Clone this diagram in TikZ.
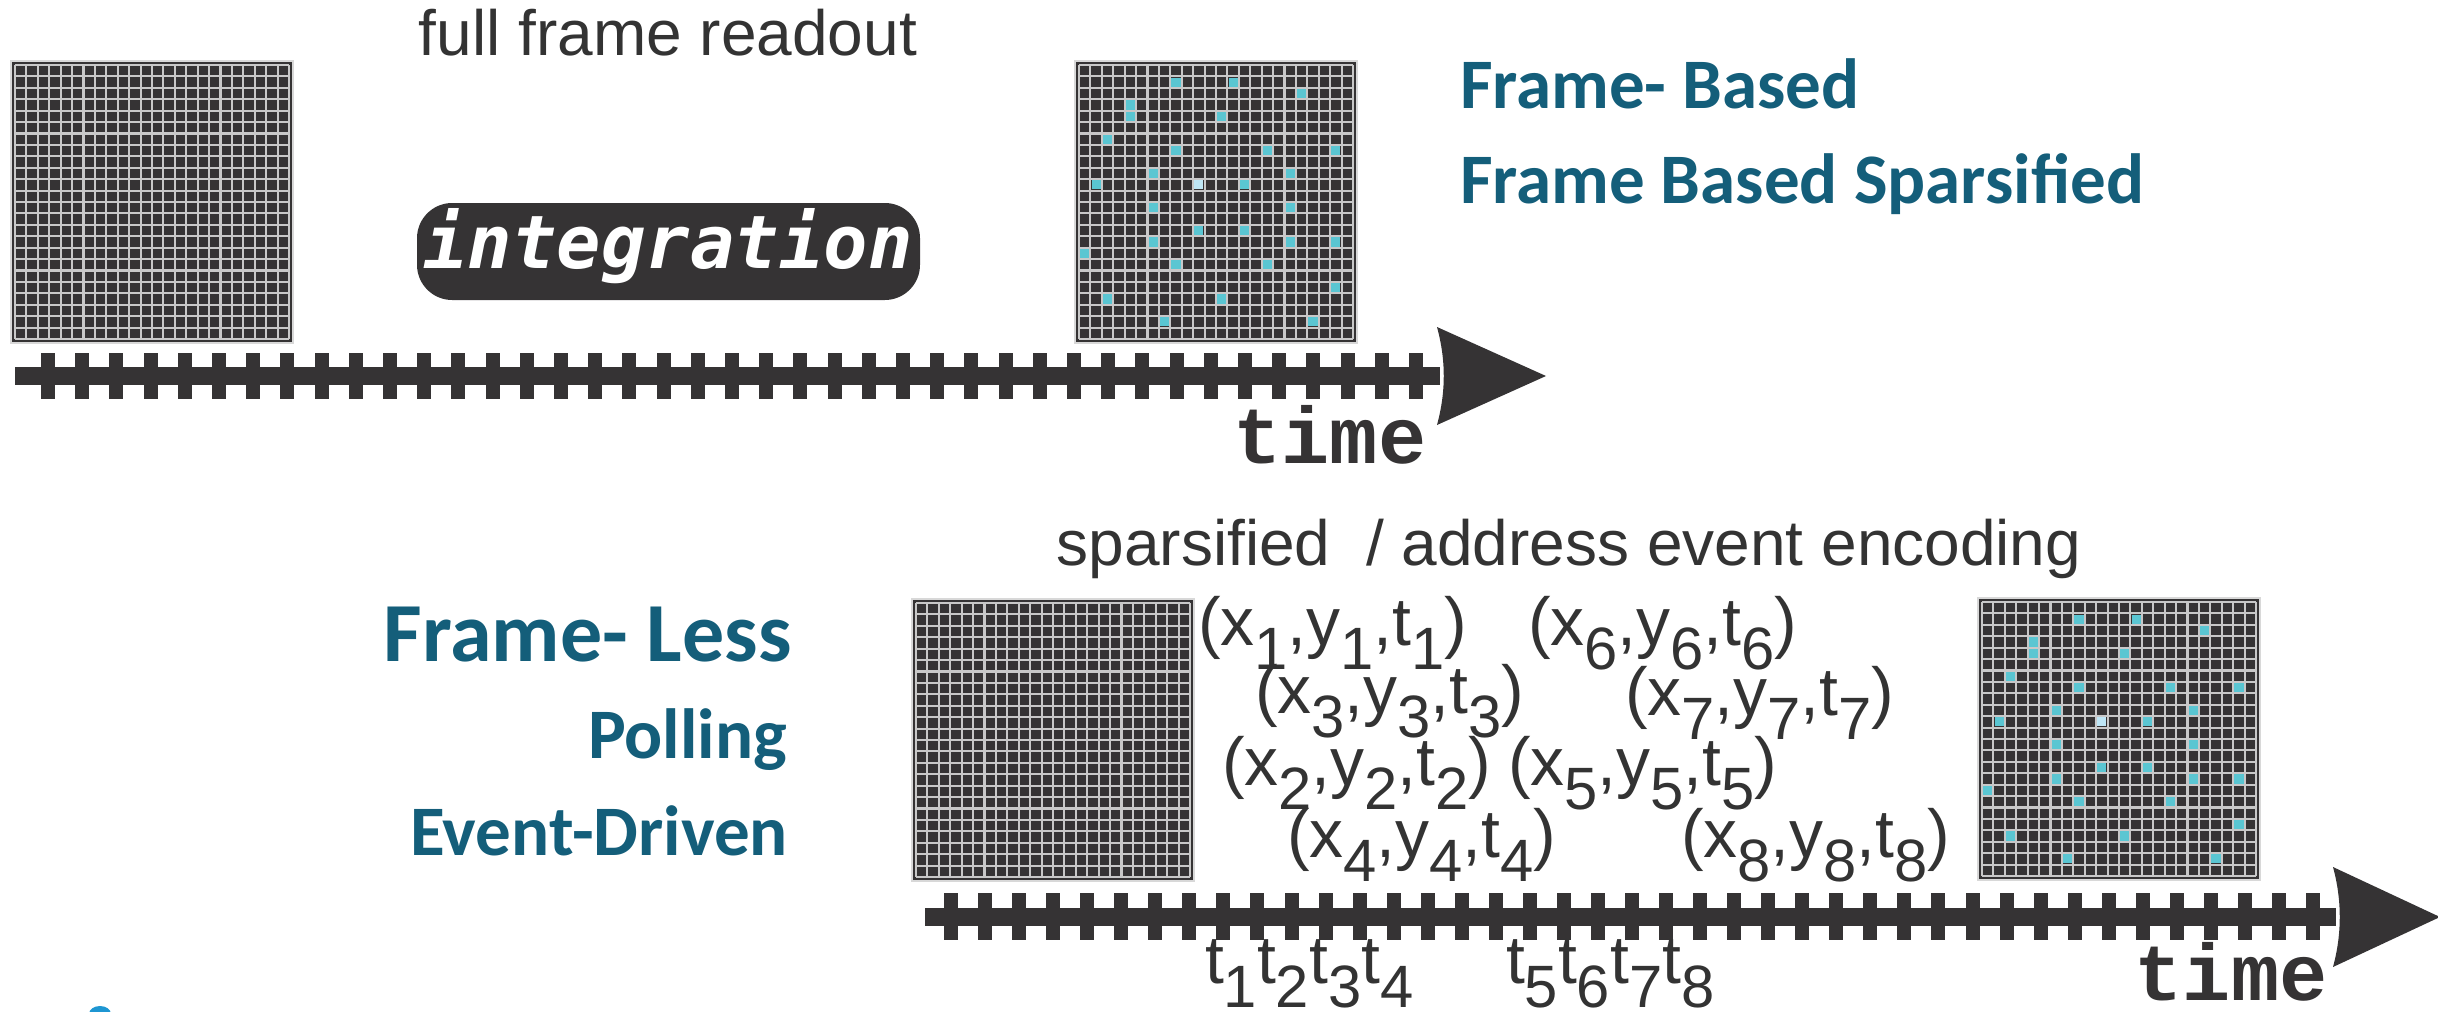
\documentclass[tikz,border=0pt]{standalone}
\usepackage{fontspec}
\setmainfont{Liberation Sans}
\newfontfamily\tealfont{Carlito}
\newfontfamily\courfont{Liberation Mono}
\newfontfamily\intfont{DejaVu Sans Mono}
\definecolor{dark}{RGB}{53,51,52}
\definecolor{gridln}{RGB}{200,200,200}
\definecolor{cyancell}{RGB}{90,198,210}
\definecolor{lightcell}{RGB}{190,230,245}
\definecolor{tealtxt}{RGB}{20,94,122}
\definecolor{txtgray}{RGB}{51,51,51}
\definecolor{blobblue}{RGB}{30,150,210}
\newcommand\subx[1]{\raisebox{-7pt}{\fontsize{17pt}{18pt}\selectfont #1}}
\newcommand\evt[1]{(x\subx{#1},y\subx{#1},t\subx{#1})}
\tikzset{
  gridbase/.pic={
    \fill[dark] (0,0) rectangle (282,282);
    \draw[gridln!70!white, line width=0.3pt] (0,0) rectangle (282,282);
    \foreach \i in {0,...,24}{
      \draw[gridln, line width=0.6pt] ({4+\i*11.4167},4) -- ({4+\i*11.4167},278);
      \draw[gridln, line width=0.6pt] (4,{4+\i*11.4167}) -- (278,{4+\i*11.4167});
    }
  },
  pixgrid/.pic={ \pic {gridbase}; },
  cyangrid/.pic={
    \pic {gridbase};
    \foreach \c/\r in {8/1,13/1,19/2,4/3,4/4,12/4,2/6,8/7,16/7,22/7,6/9,18/9,1/10,14/10,6/12,18/12,10/14,14/14,6/15,18/15,22/15,0/16,8/17,16/17,22/19,2/20,12/20,7/22,20/22}{
      \fill[cyancell] ({4+\c*11.4167+1.1},{4+\r*11.4167+1.1}) rectangle ({4+(\c+1)*11.4167-1.1},{4+(\r+1)*11.4167-1.1});
    }
    \fill[lightcell] ({4+10*11.4167+1.1},{4+10*11.4167+1.1}) rectangle ({4+11*11.4167-1.1},{4+11*11.4167-1.1});
  },
  plain/.style={inner sep=0pt, outer sep=0pt, text=txtgray, font=\fontsize{18.2pt}{20pt}\selectfont},
  tuple/.style={inner sep=0pt, outer sep=0pt, text=txtgray, anchor=base west, font=\fontsize{19.3pt}{21pt}\selectfont},
  teallbl/.style={inner sep=0pt, outer sep=0pt, text=tealtxt, font=\tealfont\bfseries\fontsize{20.2pt}{22pt}\selectfont},
  timelbl/.style={inner sep=0pt, outer sep=0pt, text=dark, anchor=base, font=\courfont\bfseries\fontsize{22.8pt}{24pt}\selectfont},
}
\begin{document}
\begin{tikzpicture}[x=0.01cm, y=-0.01cm]
\useasboundingbox (0,0) rectangle (2438,1012);
% grids
\pic at (11,61) {pixgrid};
\pic at (1075,61) {cyangrid};
\pic at (912,599) {pixgrid};
\pic at (1978,598) {cyangrid};
% top time axis
\fill[dark] (15,367) rectangle (1440,385);
\foreach \k in {0,...,40}{
  \fill[dark] ({48+\k*34.2-7},353) rectangle ({48+\k*34.2+7},399);
}
\fill[dark] (1437,327) .. controls (1446,360) and (1446,392) .. (1437,425) -- (1546,376) -- cycle;
% bottom time axis
\fill[dark] (925,908) rectangle (2336,926);
\foreach \k in {0,...,40}{
  \fill[dark] ({951+\k*34.05-7},893) rectangle ({951+\k*34.05+7},940);
}
\fill[dark] (2333,867) .. controls (2342,900) and (2342,934) .. (2333,967) -- (2440,917) -- cycle;
% texts top
\node[plain, anchor=base] (ffr) at (668,55) {full frame readout};
\fill[dark, rounded corners=10] (417,203) rectangle (920,300);
\node[inner sep=0pt, anchor=base, text=white, font=\intfont\bfseries\itshape\fontsize{21pt}{22pt}\selectfont] (integ) at (668,268) {integration};
\node[timelbl] (time1) at (1330,463) {time};
\node[teallbl, anchor=base west] (fb) at (1460,108) {Frame- Based};
\node[teallbl, anchor=base west] (fbs) at (1460,203) {Frame Based Sparsified};
% texts bottom
\node[plain, anchor=base] (saee) at (1569,565) {sparsified~ / address event encoding};
\node[teallbl, anchor=base east, font=\tealfont\bfseries\fontsize{23.9pt}{25pt}\selectfont] (fl) at (792,661) {Frame- Less};
\node[teallbl, anchor=base east] (poll) at (787,758) {Polling};
\node[teallbl, anchor=base east] (evd) at (788,855) {Event-Driven};
\node[tuple] (e1) at (1198,645) {\evt{1}};
\node[tuple] (e6) at (1528,645) {\evt{6}};
\node[tuple] (e3) at (1255,713) {\evt{3}};
\node[tuple] (e7) at (1625,715) {\evt{7}};
\node[tuple] (e2) at (1222,785) {\evt{2}};
\node[tuple] (e5) at (1508,785) {\evt{5}};
\node[tuple] (e4) at (1287,857) {\evt{4}};
\node[tuple] (e8) at (1681,857) {\evt{8}};
\node[tuple] (ta) at (1205,983) {t\subx{1}t\subx{2}t\subx{3}t\subx{4}};
\node[tuple] (tb) at (1506,983) {t\subx{5}t\subx{6}t\subx{7}t\subx{8}};
\node[timelbl] (time2) at (2231,1000) {time};
% partial logo at bottom edge
\fill[blobblue] (100,1014) ellipse (11 and 8);
\end{tikzpicture}
\end{document}
